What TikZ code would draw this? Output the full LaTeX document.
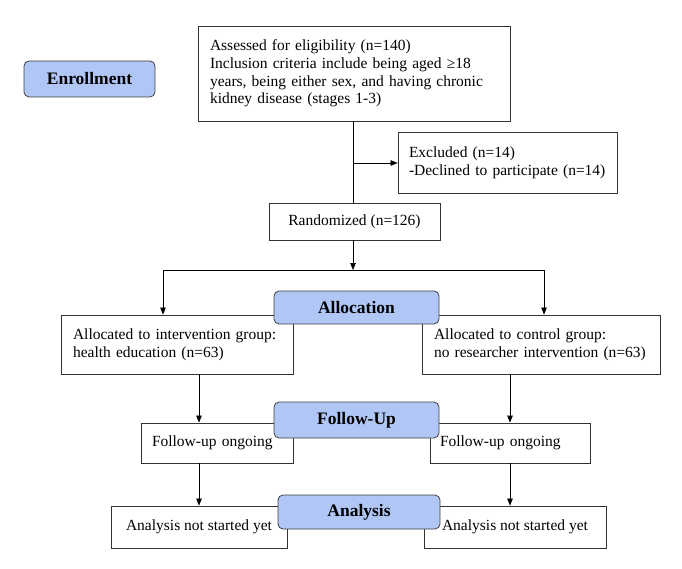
\documentclass[tikz,border=0pt]{standalone}
\usepackage{fontspec}
\setmainfont{Liberation Serif}
\usetikzlibrary{arrows.meta}
\definecolor{lblue}{RGB}{176,198,245}
\begin{document}
\begin{tikzpicture}[x=1pt,y=-1pt, font=\fontsize{15.5}{17.8}\selectfont,
 box/.style={draw=black!80, line width=0.8pt, inner ysep=0pt, anchor=center},
 stage/.style={draw=black!75, fill=lblue, rounded corners=5pt, line width=0.8pt, font=\fontsize{17.5}{20}\selectfont\bfseries, inner sep=0pt},
 arr/.style={-{Triangle[length=7pt,width=5.5pt]}, line width=0.7pt},
 con/.style={line width=0.7pt}]
\useasboundingbox (0,0) rectangle (682,569);
\node[box, text width=288pt, inner xsep=12pt, minimum height=95pt, align=left] (assess) at (354,73.5) {Assessed for eligibility (n=140)\\\makebox[288pt][s]{Inclusion criteria include being aged ≥18}\\\makebox[288pt][s]{years, being either sex, and having chronic}\\kidney disease (stages 1-3)};
\node[stage, minimum width=131pt, minimum height=36pt] (enr) at (89.5,79) {Enrollment};
\node[box, text width=197pt, inner xsep=11pt, minimum height=61pt, align=left] (exc) at (507.5,162.5) {Excluded (n=14)\\\mbox{-Declined to participate (n=14)}};
\node[box, minimum width=171pt, minimum height=37pt] (rand) at (354.5,221.5) {Randomized (n=126)};
\node[box, text width=208pt, inner xsep=12pt, minimum height=59pt, align=left] (la) at (177,344.5) {Allocated to intervention group:\\\mbox{health education (n=63)}};
\node[box, text width=214pt, inner xsep=12pt, minimum height=59pt, align=left] (ra) at (541,344.5) {Allocated to control group:\\\mbox{no researcher intervention (n=63)}};
\node[stage, minimum width=165pt, minimum height=33pt] (alloc) at (356.5,307.5) {Allocation};
\node[box, text width=130pt, inner xsep=11pt, minimum height=40pt, align=left] (lf) at (217,443) {\mbox{Follow-up ongoing}};
\node[box, text width=140pt, inner xsep=10pt, minimum height=40pt, align=left] (rf) at (510,443) {\mbox{Follow-up ongoing}};
\node[stage, minimum width=165pt, minimum height=36pt] (fu) at (356.5,420) {Follow-Up};
\node[box, minimum width=176pt, minimum height=42pt] (lan) at (199,527) {Analysis not started yet};
\node[box, minimum width=182pt, minimum height=42pt] (ran) at (515,527) {Analysis not started yet};
\node[stage, minimum width=162pt, minimum height=34pt] (an) at (359,512) {Analysis};
\coordinate (xm) at (353,0);
\coordinate (xl) at (163,0);
\coordinate (xr) at (544,0);
\coordinate (xl2) at (199,0);
\coordinate (xr2) at (510,0);
\coordinate (br) at (353,163);
\coordinate (split) at (353,270);
\draw[con] (assess.south -| xm) -- (rand.north -| xm);
\draw[arr] (br) -- (exc.west |- br);
\draw[arr] (rand.south -| xm) -- (split);
\draw[con] (split -| xl) -- (split -| xr);
\draw[arr] (split -| xl) -- (la.north -| xl);
\draw[arr] (split -| xr) -- (ra.north -| xr);
\draw[arr] (la.south -| xl2) -- (lf.north -| xl2);
\draw[arr] (lf.south -| xl2) -- (lan.north -| xl2);
\draw[arr] (ra.south -| xr2) -- (rf.north -| xr2);
\draw[arr] (rf.south -| xr2) -- (ran.north -| xr2);
\end{tikzpicture}
\end{document}
